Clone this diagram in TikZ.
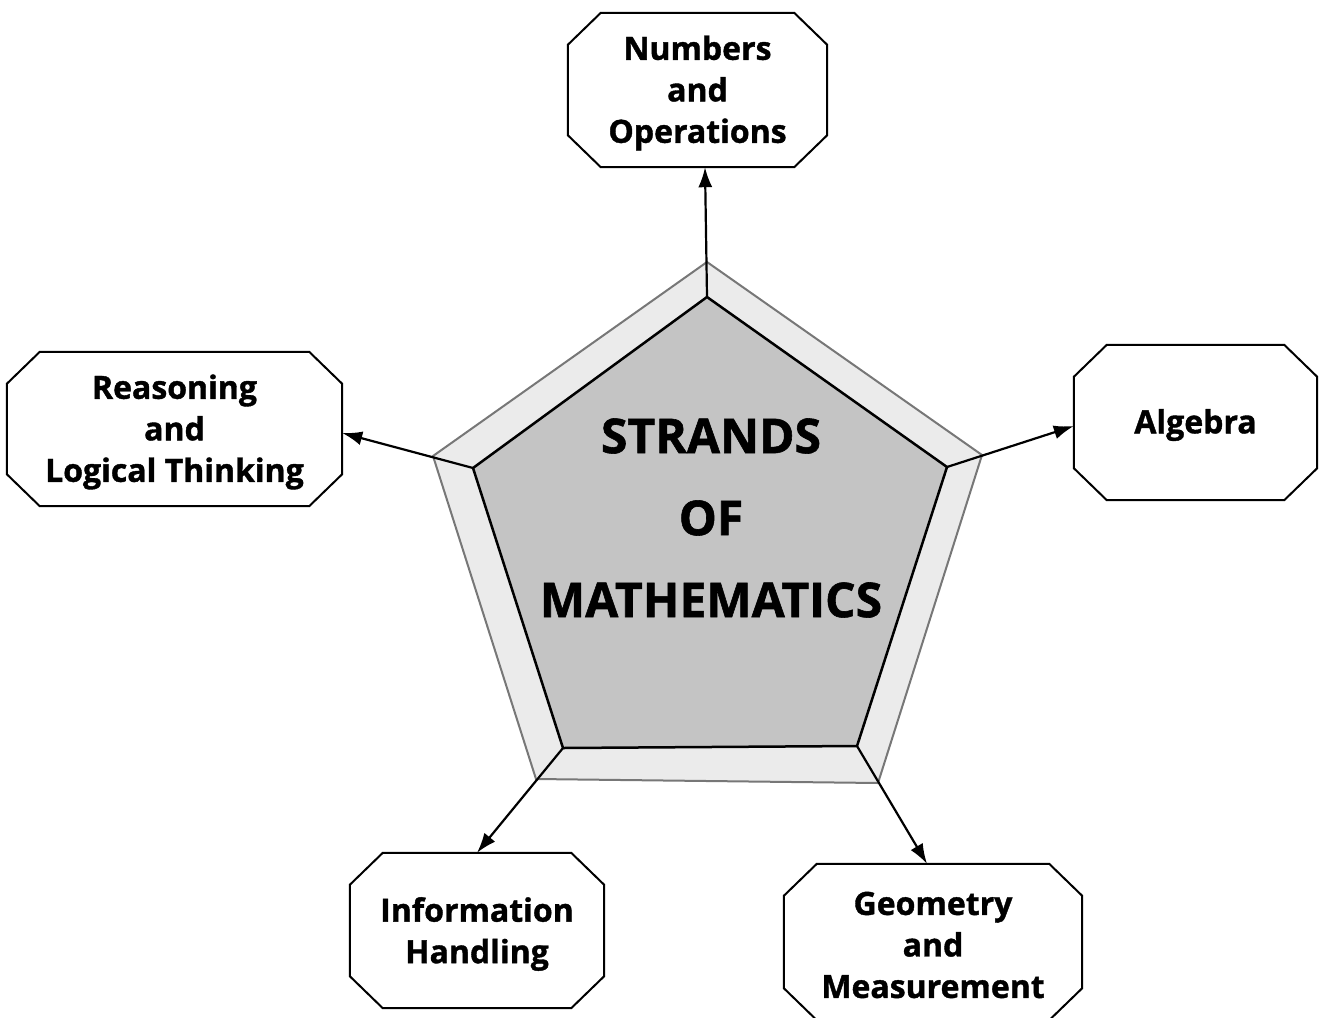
\documentclass[tikz,border=0pt]{standalone}
\usepackage{fontspec}
\setmainfont{Open Sans}[BoldFeatures={FakeBold=1.2}]
\usetikzlibrary{arrows.meta,calc}
\definecolor{outerfill}{HTML}{EBEBEB}
\definecolor{innerfill}{HTML}{C4C4C4}
\definecolor{outerline}{HTML}{777777}
\newcommand{\chamfbox}[1]{%
  \draw[boxline] ([xshift=33pt]#1.north west) -- ([xshift=-33pt]#1.north east)
    -- ([yshift=-32pt]#1.north east) -- ([yshift=32pt]#1.south east)
    -- ([xshift=-33pt]#1.south east) -- ([xshift=33pt]#1.south west)
    -- ([yshift=32pt]#1.south west) -- ([yshift=-32pt]#1.north west) -- cycle;}
\begin{document}
\begin{tikzpicture}[x=1pt,y=-1pt,
  boxline/.style={line width=2pt, line join=miter},
  strand/.style={rectangle, draw=none, align=center, inner sep=0pt,
    font=\fontsize{32}{41.5}\selectfont\bfseries},
  conn/.style={line width=2.2pt, -{Latex[length=20pt,width=14pt]}},
  title/.style={align=center, font=\fontsize{48}{82}\selectfont\bfseries}]
\useasboundingbox (0,0) rectangle (1321,1017);
% pentagon
\coordinate (ot) at (707,262);
\coordinate (or) at (982,455);
\coordinate (obr) at (878,783);
\coordinate (obl) at (536,779);
\coordinate (ol) at (433,456);
\coordinate (it) at (707,297);
\coordinate (ir) at (947,467);
\coordinate (ibr) at (857,746);
\coordinate (ibl) at (563,748);
\coordinate (il) at (473,468);
\draw[fill=outerfill, draw=outerline, line width=2pt] (ot) -- (or) -- (obr) -- (obl) -- (ol) -- cycle;
\draw[fill=innerfill, draw=black, line width=2.5pt, line join=miter] (it) -- (ir) -- (ibr) -- (ibl) -- (il) -- cycle;
\node[title] (center) at (711,518) {STRANDS\\OF\\MATHEMATICS};
% boxes
\node[strand, minimum width=259pt, minimum height=154pt] (num) at (697.5,90) {};
\node[strand] (numtxt) at (697.5,93) {\fontsize{32}{44.5}\selectfont Numbers\\and\\Operations};
\node[strand, minimum width=243pt, minimum height=155pt] (alg) at (1195.5,422.5) {};
\node[strand] (algtxt) at (1195.5,425) {Algebra};
\node[strand, minimum width=335pt, minimum height=154pt] (rea) at (174.5,429) {};
\node[strand] (reatxt) at (174.5,432) {Reasoning\\and\\Logical Thinking};
\node[strand, minimum width=254pt, minimum height=155pt] (inf) at (477,930.5) {};
\node[strand] (inftxt) at (477,934) {\fontsize{32}{37}\selectfont Information\\Handling};
\node[strand, minimum width=298pt, minimum height=156pt] (geo) at (933,942) {};
\node[strand] (geotxt) at (933,945) {Geometry\\and\\Measurement};
\chamfbox{num}
\chamfbox{alg}
\chamfbox{rea}
\chamfbox{inf}
\chamfbox{geo}
% connectors
\draw[conn] (it) -- (num.south -| 705,0);
\draw[conn] (ir) -- (alg.west |- 0,426);
\draw[conn] (il) -- (rea.east |- 0,433);
\draw[conn] (ibl) -- (inf.north);
\draw[conn] (ibr) -- (geo.north -| 927,0);
\end{tikzpicture}
\end{document}
